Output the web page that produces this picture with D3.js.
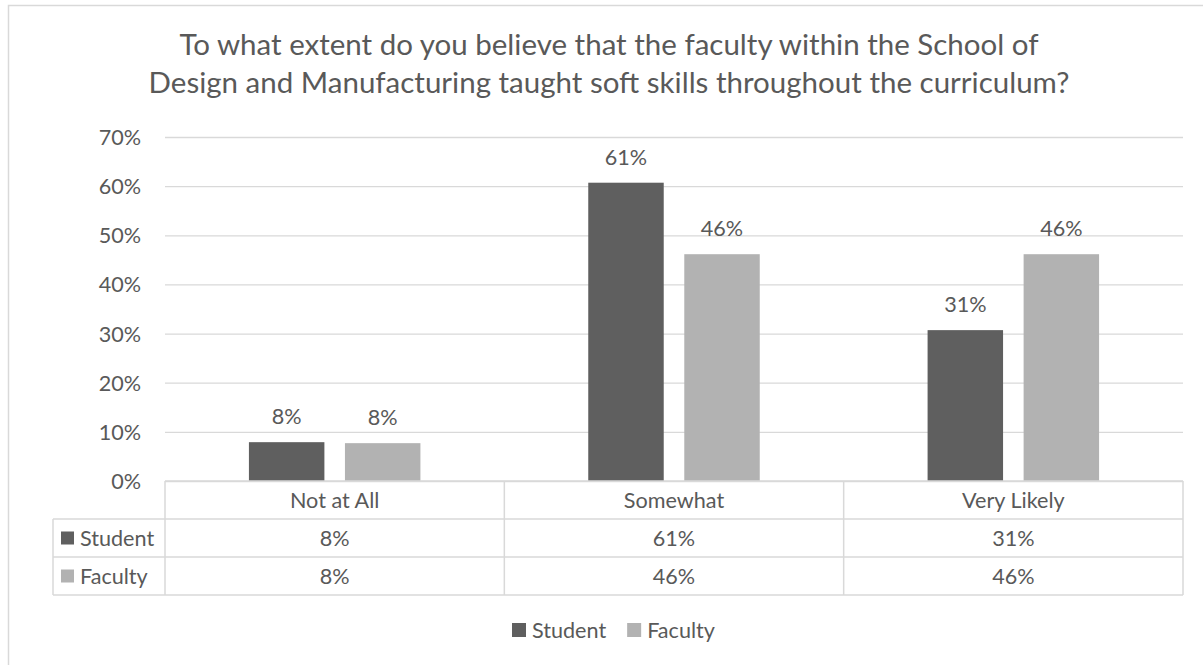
<!DOCTYPE html>
<html>
<head>
<meta charset="utf-8">
<script src="https://cdn.jsdelivr.net/npm/d3@7"></script>
<style>
  html, body { margin: 0; padding: 0; background: #fff; }
  svg { display: block; }
  text { font-family: Lato, "Open Sans", sans-serif; fill: #595959; }
</style>
</head>
<body>
<svg id="chart" width="1203" height="665"></svg>
<script>
// Survey responses, share of respondents per answer
const categories = ["Not at All", "Somewhat", "Very Likely"];
const seriesNames = ["Student", "Faculty"];
const studentValues = [0.079, 0.607, 0.307];
const facultyValues = [0.077, 0.4615, 0.4615];
const yTicks = [0, 0.1, 0.2, 0.3, 0.4, 0.5, 0.6, 0.7];
const titleLines = [
  "To what extent do you believe that the faculty within the School of",
  "Design and Manufacturing taught soft skills throughout the curriculum?"
];

const colors = { Student: "#5f5f5f", Faculty: "#b2b2b2" };
const valuesBySeries = { Student: studentValues, Faculty: facultyValues };
const pct = d3.format(".0%");

const svg = d3.select("#chart");
const W = 1203, H = 665;
const grid = "#d9d9d9";
const fs = 21.6;

// chart area frame
svg.append("rect")
  .attr("x", 8.5).attr("y", 5.5)
  .attr("width", W + 10).attr("height", H + 10)
  .attr("fill", "#fff").attr("stroke", grid).attr("stroke-width", 1.5);

// title
svg.append("g").selectAll("text").data(titleLines).join("text")
  .attr("x", 609).attr("y", (d, i) => 55 + i * 38)
  .attr("text-anchor", "middle")
  .attr("font-size", 29.5)
  .text(d => d);

const plot = { left: 165, right: 1183, top: 137, bottom: 481 };

const y = d3.scaleLinear().domain([0, 0.7]).range([plot.bottom, plot.top]);
const x0 = d3.scaleBand().domain(categories).range([plot.left, plot.right]).padding(0);
const x1 = d3.scaleBand().domain(seriesNames).range([0, x0.bandwidth()])
  .paddingInner(0.214).paddingOuter(0.874);

// gridlines
const yAxis = d3.axisLeft(y).tickValues(yTicks).tickFormat(pct)
  .tickSize(-(plot.right - plot.left)).tickPadding(24);
const gy = svg.append("g").attr("transform", `translate(${plot.left},0)`).call(yAxis);
gy.select(".domain").remove();
gy.selectAll(".tick line").attr("stroke", grid).attr("stroke-width", 1.3);
gy.selectAll(".tick text").attr("font-size", fs).attr("fill", "#595959")
  .attr("font-family", "Lato, sans-serif").attr("dy", "0.35em");

// bars
const groups = svg.append("g").selectAll("g").data(categories).join("g")
  .attr("transform", d => `translate(${x0(d)},0)`);

groups.selectAll("rect")
  .data((c, i) => seriesNames.map(s => ({ s, v: valuesBySeries[s][i] })))
  .join("rect")
  .attr("x", d => x1(d.s))
  .attr("width", x1.bandwidth())
  .attr("y", d => y(d.v))
  .attr("height", d => y(0) - y(d.v))
  .attr("fill", d => colors[d.s]);

groups.selectAll("text.val")
  .data((c, i) => seriesNames.map(s => ({ s, v: valuesBySeries[s][i] })))
  .join("text").attr("class", "val")
  .attr("x", d => x1(d.s) + x1.bandwidth() / 2)
  .attr("y", d => y(d.v) - 18)
  .attr("text-anchor", "middle")
  .attr("font-size", fs)
  .text(d => pct(d.v));

// data table below the axis
const rowTop = [481, 519, 557, 595];
const tableLeft = 53;
const tbl = svg.append("g");
const line = (x1p, y1p, x2p, y2p) => tbl.append("line")
  .attr("x1", x1p).attr("y1", y1p).attr("x2", x2p).attr("y2", y2p)
  .attr("stroke", grid).attr("stroke-width", 1.5);

line(plot.left, rowTop[0], plot.right, rowTop[0]);
line(tableLeft, rowTop[1], plot.right, rowTop[1]);
line(tableLeft, rowTop[2], plot.right, rowTop[2]);
line(tableLeft, rowTop[3], plot.right, rowTop[3]);
line(tableLeft, rowTop[1], tableLeft, rowTop[3]);
[plot.left, ...categories.map(c => x0(c) + x0.bandwidth())].forEach(xv => line(xv, rowTop[0], xv, rowTop[3]));

// category header row
tbl.selectAll("text.cat").data(categories).join("text").attr("class", "cat")
  .attr("x", d => x0(d) + x0.bandwidth() / 2)
  .attr("y", (rowTop[0] + rowTop[1]) / 2)
  .attr("dy", "0.35em")
  .attr("text-anchor", "middle").attr("font-size", fs)
  .text(d => d);

// series rows
seriesNames.forEach((s, r) => {
  const yc = (rowTop[r + 1] + rowTop[r + 2]) / 2;
  tbl.append("rect").attr("x", 61).attr("y", yc - 6.5).attr("width", 13).attr("height", 13)
    .attr("fill", colors[s]);
  tbl.append("text").attr("x", 80).attr("y", yc).attr("dy", "0.35em")
    .attr("font-size", fs).text(s);
  tbl.selectAll(null).data(valuesBySeries[s]).join("text")
    .attr("x", (d, i) => x0(categories[i]) + x0.bandwidth() / 2)
    .attr("y", yc).attr("dy", "0.35em")
    .attr("text-anchor", "middle").attr("font-size", fs)
    .text(d => pct(d));
});

// legend
const legend = svg.append("g");
let lx = 512;
seriesNames.forEach(s => {
  legend.append("rect").attr("x", lx).attr("y", 623).attr("width", 14).attr("height", 14)
    .attr("fill", colors[s]);
  const t = legend.append("text").attr("x", lx + 20).attr("y", 630).attr("dy", "0.35em")
    .attr("font-size", fs).text(s);
  lx += 20 + t.node().getComputedTextLength() + 21;
});
</script>
</body>
</html>
